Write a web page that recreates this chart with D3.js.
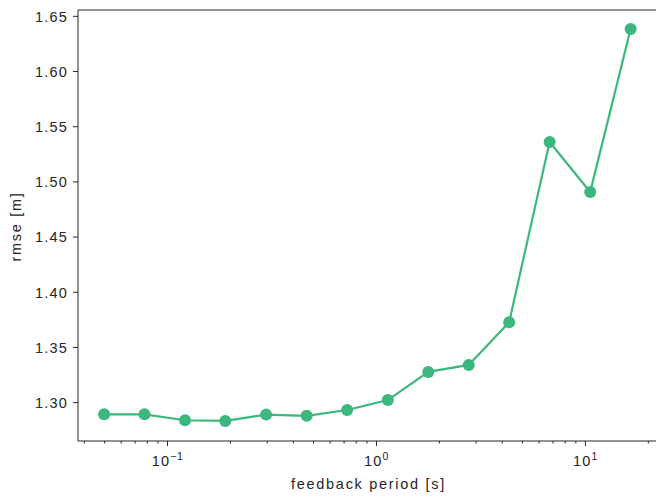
<!DOCTYPE html>
<html>
<head>
    <meta charset="utf-8">
    <script src="https://d3js.org/d3.v7.min.js"></script>
    <style>
        body { margin: 0; background: #fff; }
        text { font-family: "Liberation Sans", Arial, sans-serif; fill: #262626; }
        .tick line { stroke: #262626; }
        .domain { stroke: #262626; }
    </style>
</head>
<body>
    <svg width="656" height="496"></svg>
    <script>
        // feedback period [s] and measured rmse [m]
        var periods = [0.05, 0.078, 0.122, 0.19, 0.298, 0.466, 0.728, 1.14, 1.78, 2.78, 4.34, 6.78, 10.6, 16.55];
        var rmse = [1.289, 1.289, 1.2836, 1.283, 1.2887, 1.2876, 1.2929, 1.3019, 1.3274, 1.3337, 1.3724, 1.5357, 1.4904, 1.638];
        var yTicks = [1.30, 1.35, 1.40, 1.45, 1.50, 1.55, 1.60, 1.65];
        var xMajor = [0.1, 1, 10];
        var xMajorLabels = ["−1", "0", "1"];

        var svg = d3.select("svg");
        var mLeft = 78, mTop = 10, mRight = 657, mBottom = 441;

        var x = d3.scaleLog().domain([10 ** -1.426, 10 ** 1.345]).range([mLeft, mRight]);
        var y = d3.scaleLinear().domain([1.2648, 1.6553]).range([mBottom, mTop]);

        // minor ticks on the log axis
        var minor = [];
        [0.01, 0.1, 1, 10].forEach(function (d) {
            for (var k = 2; k <= 9; k++) {
                var v = d * k;
                if (v >= x.domain()[0] && v <= x.domain()[1]) minor.push(v);
            }
        });

        svg.append("g")
            .attr("transform", "translate(0," + mBottom + ")")
            .call(d3.axisBottom(x).tickValues(minor).tickSize(2.5).tickFormat(""))
            .call(g => g.select(".domain").remove());

        var gx = svg.append("g")
            .attr("transform", "translate(0," + mBottom + ")")
            .call(d3.axisBottom(x).tickValues(xMajor).tickSize(5).tickFormat(""));
        gx.select(".domain").attr("d", "M" + mLeft + ",0H" + mRight);

        gx.selectAll(".tick").each(function (d, i) {
            var t = d3.select(this).append("text")
                .attr("x", 0)
                .attr("y", 25)
                .attr("text-anchor", "middle")
                .style("font-size", "14.5px")
                .style("letter-spacing", "1.2px");
            t.append("tspan").text("10");
            t.append("tspan").attr("dy", -6).style("font-size", "10.5px").style("letter-spacing", "0.6px").text(xMajorLabels[i]);
        });

        var gy = svg.append("g")
            .attr("transform", "translate(" + mLeft + ",0)")
            .call(d3.axisLeft(y).tickValues(yTicks).tickSize(5).tickPadding(6).tickFormat(d3.format(".2f")));
        gy.select(".domain").attr("d", "M0," + mBottom + "V" + mTop);
        gy.selectAll("text")
            .style("font-size", "14.5px")
            .style("letter-spacing", "1.2px")
            .attr("dx", 1)
            .attr("dy", "0.36em");

        // top spine
        svg.append("line")
            .attr("x1", mLeft).attr("x2", mRight)
            .attr("y1", mTop).attr("y2", mTop)
            .attr("stroke", "#262626").attr("stroke-width", 1);

        var color = "#3cb77d";
        var line = d3.line().x((d, i) => x(periods[i])).y(d => y(d));
        svg.append("path")
            .datum(rmse)
            .attr("d", line)
            .attr("fill", "none")
            .attr("stroke", color)
            .attr("stroke-width", 2.2);

        svg.selectAll(".pt")
            .data(rmse)
            .enter().append("circle")
            .attr("class", "pt")
            .attr("cx", (d, i) => x(periods[i]))
            .attr("cy", d => y(d))
            .attr("r", 6)
            .attr("fill", color);

        svg.append("text")
            .attr("x", (mLeft + mRight) / 2 + 1)
            .attr("y", 489)
            .attr("text-anchor", "middle")
            .style("font-size", "14.5px")
            .style("letter-spacing", "1.7px")
            .text("feedback period [s]");

        svg.append("text")
            .attr("transform", "translate(21," + ((mTop + mBottom) / 2 + 1) + ") rotate(-90)")
            .attr("text-anchor", "middle")
            .style("font-size", "14.5px")
            .style("letter-spacing", "1.7px")
            .text("rmse [m]");
    </script>
</body>
</html>
